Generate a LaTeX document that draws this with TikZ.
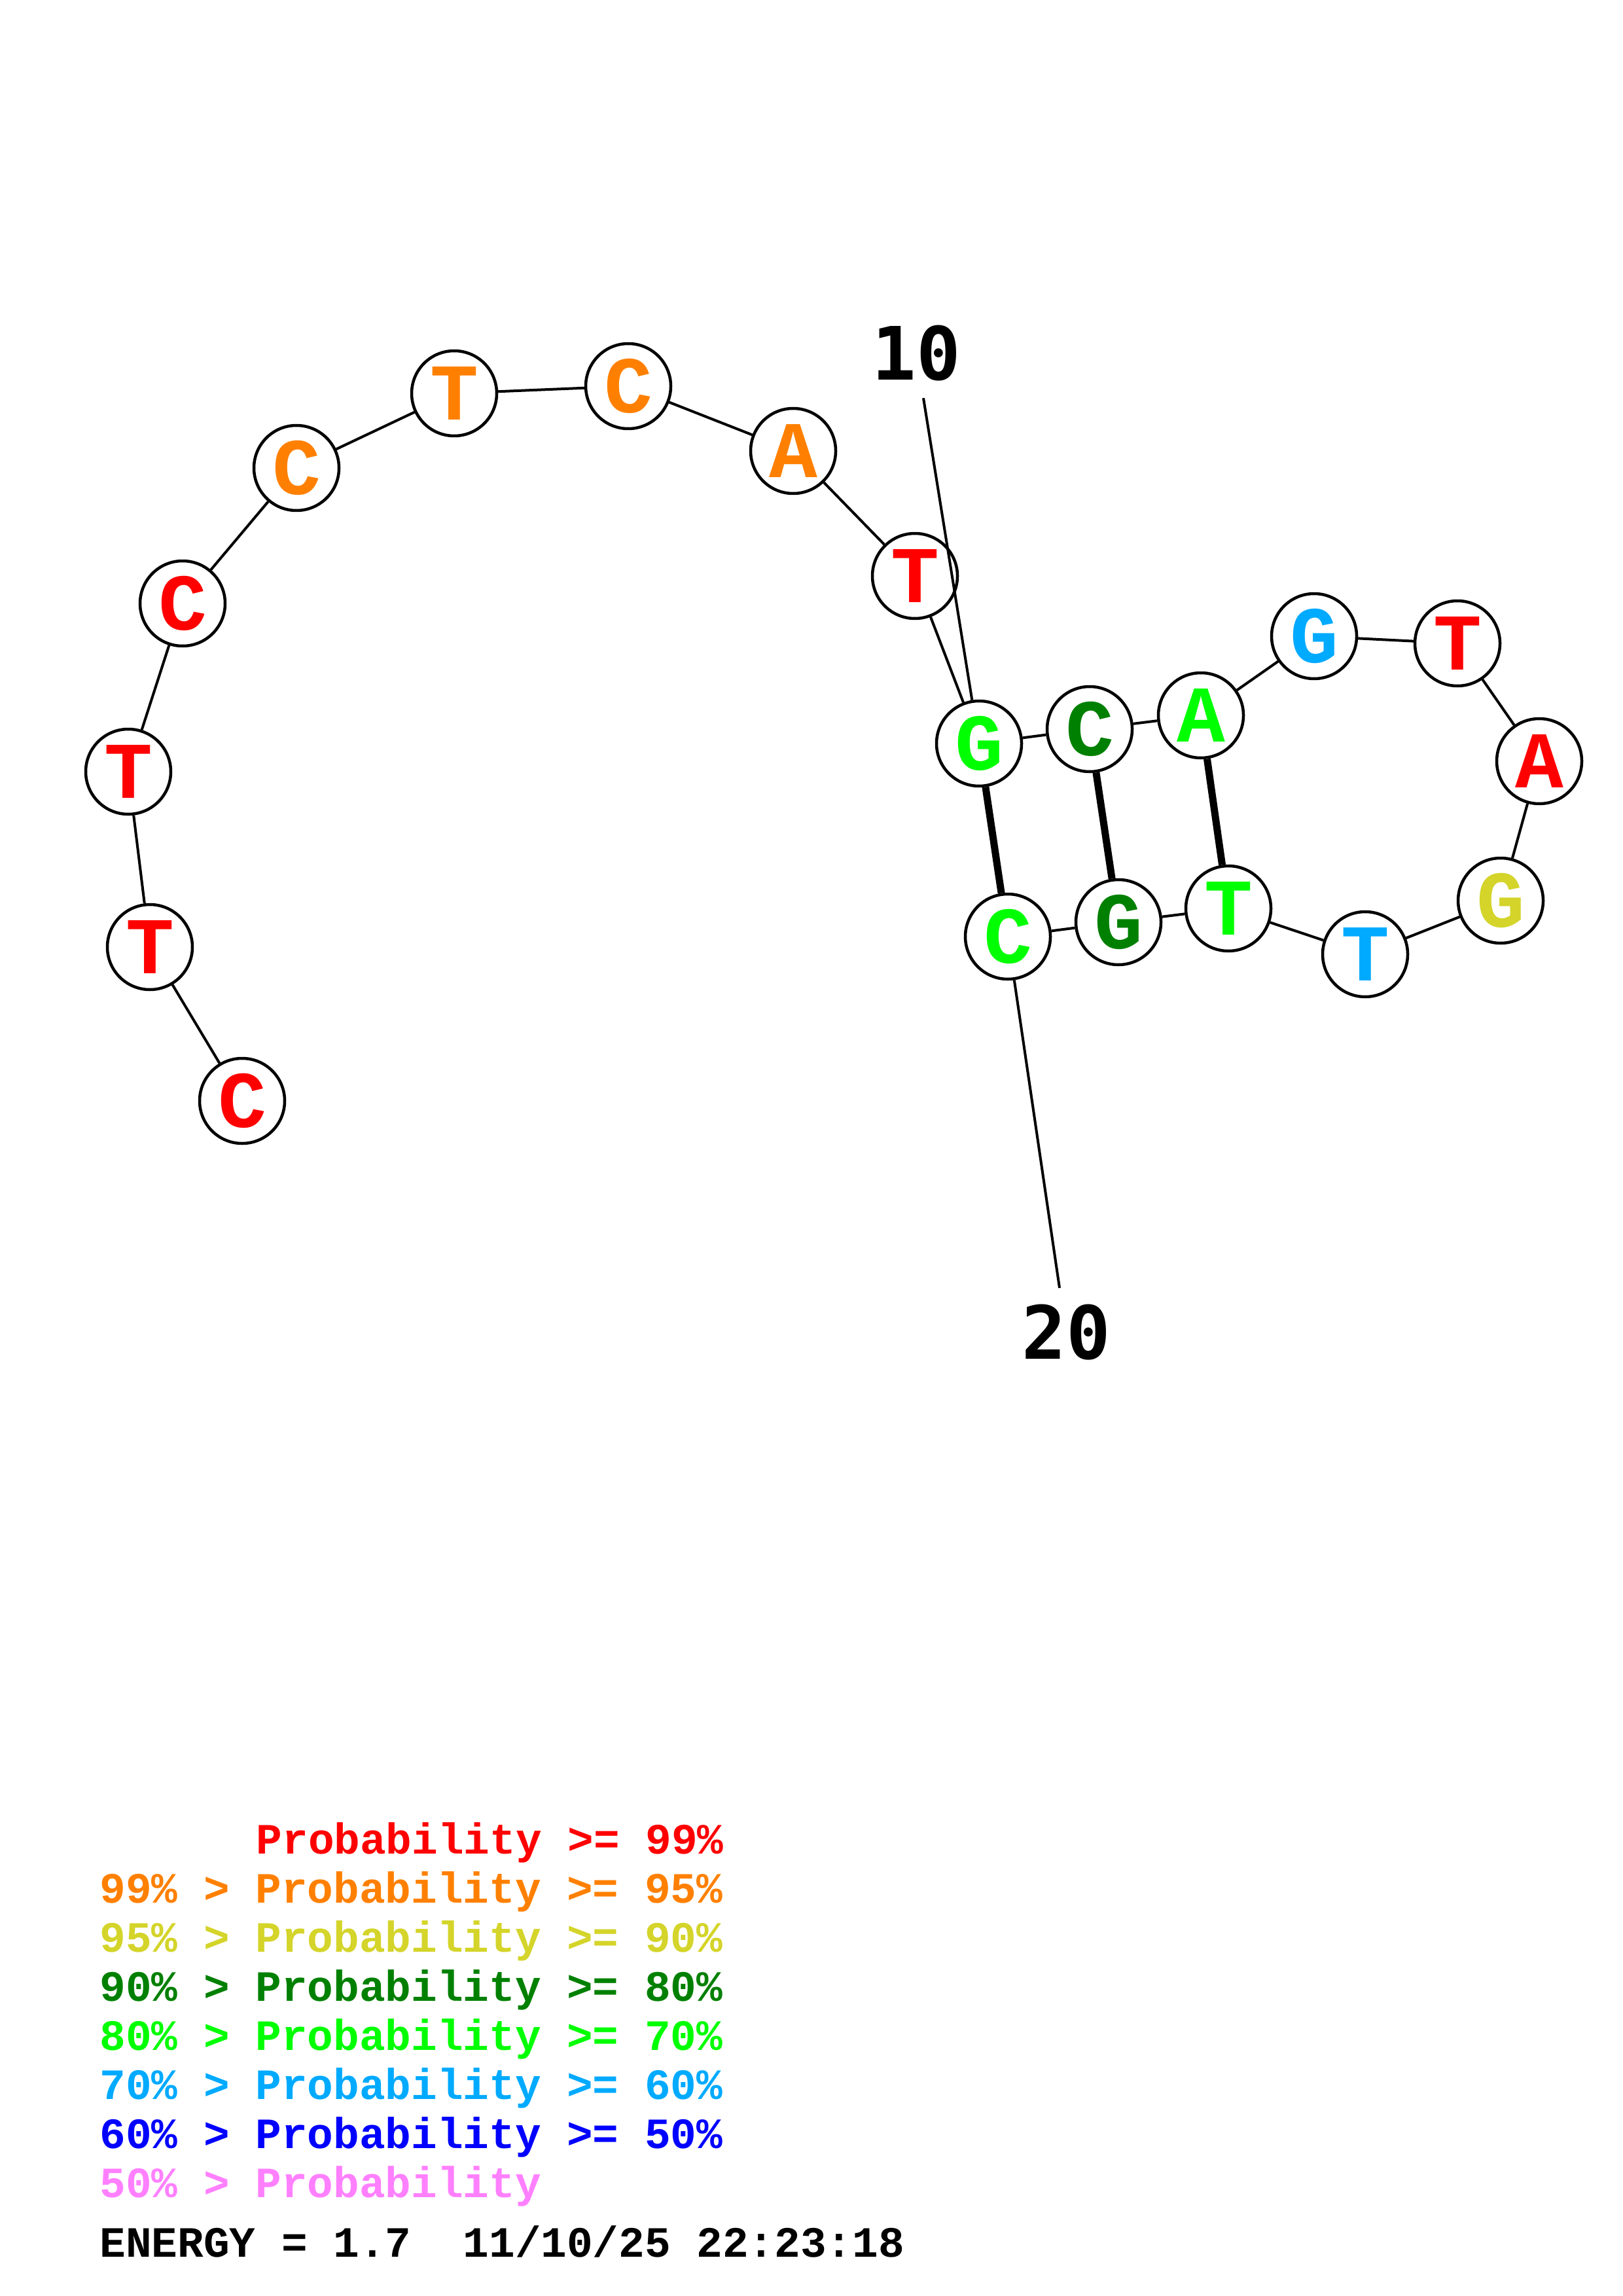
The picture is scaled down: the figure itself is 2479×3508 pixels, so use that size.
\documentclass[tikz,border=0pt]{standalone}
\usepackage{fontspec}
\newfontfamily\nucfont{Liberation Mono}
\newfontfamily\numfont{DejaVu Sans Mono}
\definecolor{pred}{RGB}{255,0,0}
\definecolor{porange}{RGB}{255,128,0}
\definecolor{pyellow}{RGB}{212,212,42}
\definecolor{pdkgreen}{RGB}{0,128,0}
\definecolor{plime}{RGB}{0,255,0}
\definecolor{psky}{RGB}{0,170,255}
\definecolor{pblue}{RGB}{0,0,255}
\definecolor{ppink}{RGB}{255,128,255}
\tikzset{
	nuc/.style={circle,draw,line width=0.45mm,fill=white,minimum size=13mm,inner sep=0pt,
		font=\nucfont\bfseries\fontsize{35}{35}\selectfont},
	bb/.style={line width=0.4mm},
	bpair/.style={line width=1.1mm},
	numlbl/.style={inner sep=2.5mm,font=\numfont\bfseries\fontsize{32}{32}\selectfont},
	legline/.style={anchor=base west,inner sep=0pt,font=\nucfont\bfseries\fontsize{18.8}{18.8}\selectfont}
}

\begin{document}
\begin{tikzpicture}[x=0.1mm,y=-0.1mm]
	\useasboundingbox (0,0) rectangle (2479,3508);
	
	%bases
	\node[nuc,text=pred]     (n1)  at (370,1682)  {C};
	\node[nuc,text=pred]     (n2)  at (229,1447)  {T};
	\node[nuc,text=pred]     (n3)  at (196,1179)  {T};
	\node[nuc,text=pred]     (n4)  at (279,922)   {C};
	\node[nuc,text=porange]  (n5)  at (453,715)   {C};
	\node[nuc,text=porange]  (n6)  at (694,601)   {T};
	\node[nuc,text=porange]  (n7)  at (960,590)   {C};
	\node[nuc,text=porange]  (n8)  at (1212,689)  {A};
	\node[nuc,text=pred]     (n9)  at (1398,880)  {T};
	\node[nuc,text=plime]    (n10) at (1496,1136) {G};
	\node[nuc,text=pdkgreen] (n11) at (1665,1114) {C};
	\node[nuc,text=plime]    (n12) at (1835,1093) {A};
	\node[nuc,text=psky]     (n13) at (2008,972)  {G};
	\node[nuc,text=pred]     (n14) at (2227,983)  {T};
	\node[nuc,text=pred]     (n15) at (2352,1163) {A};
	\node[nuc,text=pyellow]  (n16) at (2293,1376) {G};
	\node[nuc,text=psky]     (n17) at (2086,1458) {T};
	\node[nuc,text=plime]    (n18) at (1877,1388) {T};
	\node[nuc,text=pdkgreen] (n19) at (1709,1409) {G};
	\node[nuc,text=plime]    (n20) at (1540,1431) {C};
	
	%backbone
	\foreach \i in {1,...,19}{
		\pgfmathtruncatemacro{\j}{\i+1}
		\draw[bb] (n\i) -- (n\j);
	}
	
	%pairs
	\draw[bpair] (n10) -- (n20);
	\draw[bpair] (n11) -- (n19);
	\draw[bpair] (n12) -- (n18);
	
	%numbering
	\node[numlbl] (l10) at (1400,540)  {10};
	\node[numlbl] (l20) at (1629,2036) {20};
	\draw[bb] (l10) -- (n10);
	\draw[bb] (l20) -- (n20);
	
	%legend
	\node[legline,text=pred]     (g1) at (391,2832) {Probability >= 99\%};
	\node[legline,text=porange]  (g2) at (152,2907) {99\% > Probability >= 95\%};
	\node[legline,text=pyellow]  (g3) at (152,2982) {95\% > Probability >= 90\%};
	\node[legline,text=pdkgreen] (g4) at (152,3057) {90\% > Probability >= 80\%};
	\node[legline,text=plime]    (g5) at (152,3132) {80\% > Probability >= 70\%};
	\node[legline,text=psky]     (g6) at (152,3207) {70\% > Probability >= 60\%};
	\node[legline,text=pblue]    (g7) at (152,3282) {60\% > Probability >= 50\%};
	\node[legline,text=ppink]    (g8) at (152,3357) {50\% > Probability};
	\node[legline]               (en) at (152,3448) {ENERGY = 1.7\ \ 11/10/25 22:23:18};
	
\end{tikzpicture}
\end{document}
